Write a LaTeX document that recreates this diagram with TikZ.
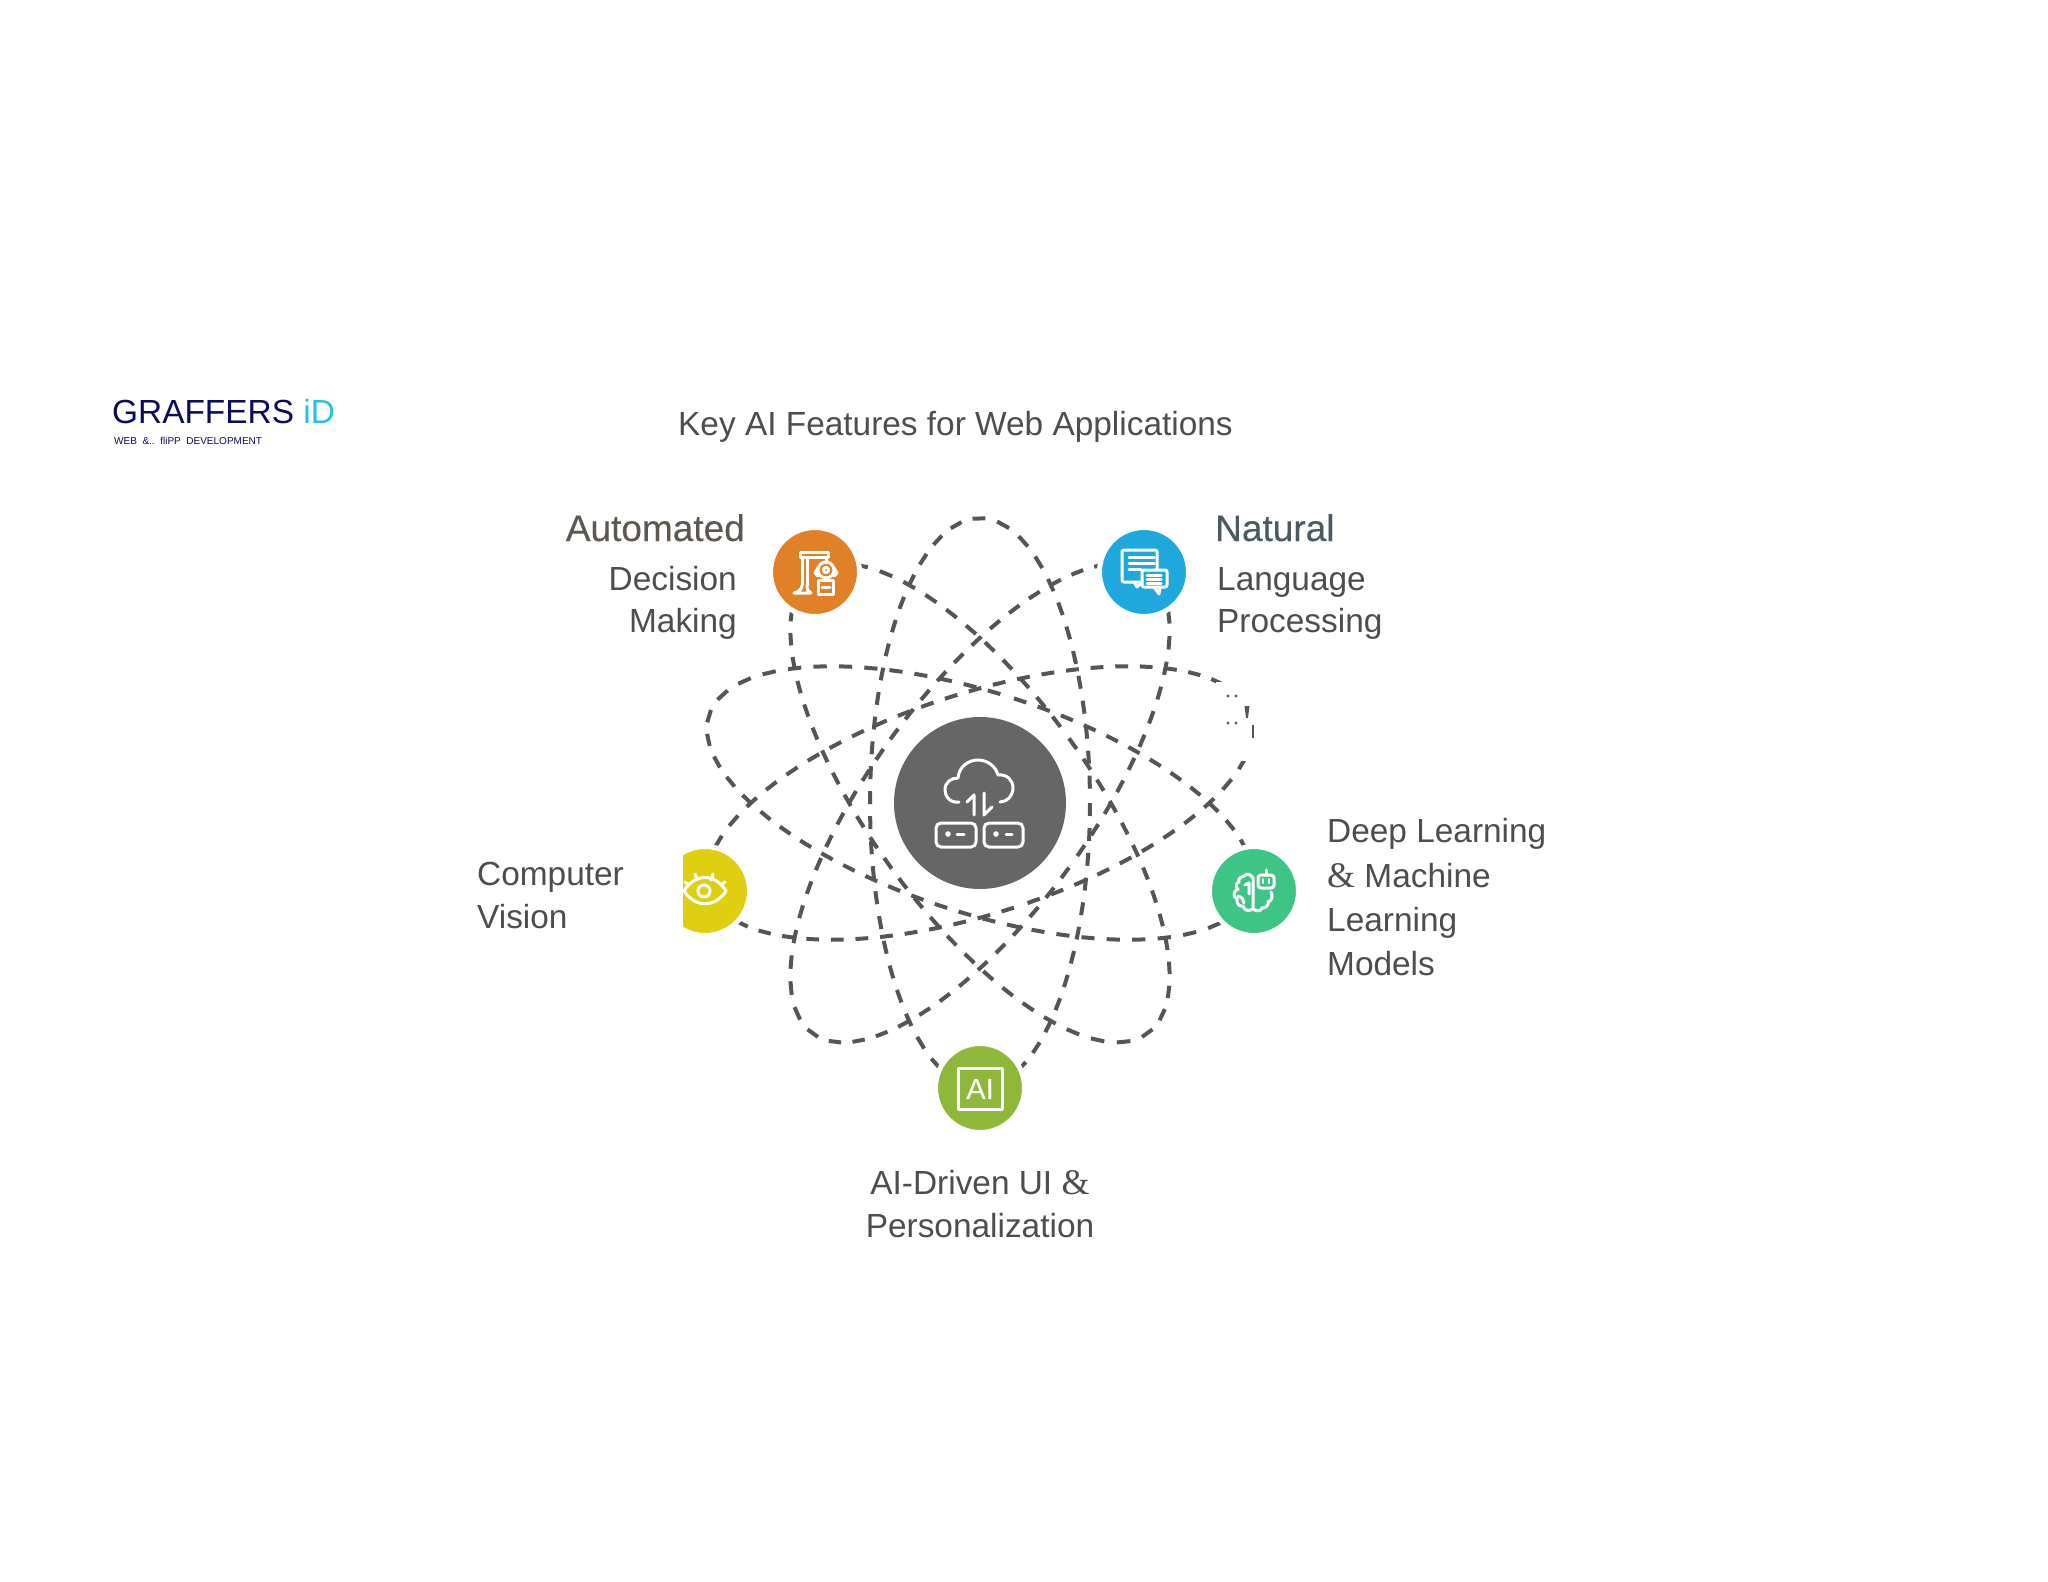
\documentclass[tikz,border=0pt]{standalone}
\usepackage{fontspec}
\setmainfont{Liberation Sans}
\newfontfamily\headfont[FakeBold=0.2]{Liberation Sans}
\newfontfamily\ampfont{Liberation Serif}
\newcommand{\bigamp}{{\ampfont\fontsize{36}{36}\selectfont\&}}
\definecolor{txt}{HTML}{4D4D4D}
\definecolor{dashc}{HTML}{555555}
\definecolor{orangec}{HTML}{E08028}
\definecolor{bluec}{HTML}{1FA8DC}
\definecolor{yellowc}{HTML}{E0CE10}
\definecolor{greenc}{HTML}{3EC484}
\definecolor{limec}{HTML}{8FB83A}
\definecolor{hubc}{HTML}{666666}
\definecolor{navy}{HTML}{0B0B5C}
\definecolor{cyanc}{HTML}{22C5DC}
\definecolor{headwarm}{HTML}{5C5850}
\definecolor{headcool}{HTML}{4A5A5E}
\tikzset{
  orbitstroke/.style={draw=dashc,line width=4pt},
  badge/.style={circle,minimum size=89pt,inner sep=0pt,draw=white,line width=5pt},
  glyph/.style={draw=white,line width=3pt,line join=round,line cap=round},
  label/.style={inner sep=0pt,font=\fontsize{33.4}{33.4}\selectfont,text=txt},
  headA/.style={inner sep=0pt,font=\headfont\fontsize{37}{37}\selectfont},
}
% one orbit drawn stroke by stroke, stepping along the ellipse by arc length
\newcommand{\orbitdashes}[1]{%
  \begin{scope}[shift={(c)},rotate=#1]
    \gdef\tcur{0}
    \foreach \i in {1,...,52}{
      \pgfmathsetmacro\spA{sqrt((1.10*sin(\tcur))^2+(2.85*cos(\tcur))^2)}
      \pgfmathsetmacro\tnd{\tcur+7.448/\spA}
      \pgfmathsetmacro\spB{sqrt((1.10*sin(\tnd))^2+(2.85*cos(\tnd))^2)}
      \pgfmathsetmacro\tnxt{\tnd+6.876/\spB}
      \draw[orbitstroke] ({110*cos(\tcur)},{285*sin(\tcur)}) -- ({110*cos(\tnd)},{285*sin(\tnd)});
      \xdef\tcur{\tnxt}
    }
  \end{scope}}
\begin{document}
\begin{tikzpicture}[x=1pt,y=-1pt]
\useasboundingbox (0,0) rectangle (2048,1582);
\fill[white] (0,0) rectangle (2048,1582);
\coordinate (c) at (980,803);
% orbits
\orbitdashes{0}
\orbitdashes{36}
\orbitdashes{72}
\orbitdashes{-36}
\orbitdashes{-72}
% erased stretch of one orbit, with its leftovers
\fill[white] (1216,682) rectangle (1268,761);
\fill[dashc] (1228,696) circle (1.6pt) (1236,696) circle (1.6pt)
             (1228,723) circle (1.6pt) (1236,723) circle (1.6pt);
\fill[dashc] (1244.5,706) -- (1249.5,706) -- (1248,718) -- (1246,718) -- cycle;
\fill[dashc] (1252.2,725) rectangle (1254,738);
% nodes
\node[circle,fill=hubc,minimum size=172pt,inner sep=0pt] (hub) at (c) {};
\node[badge,fill=orangec] (orange) at (815,572) {};
\node[badge,fill=bluec] (blue) at (1144,572) {};
\node[badge,fill=greenc] (green) at (1254,891) {};
\node[badge,fill=limec] (lime) at (980,1088) {};
\node[badge,fill=yellowc] (yellow) at (705,891) {};
\fill[white] (640,835) rectangle (683,947);
% hub icon
\begin{scope}[shift={(hub.center)},glyph]
 \draw (-21,-1) .. controls (-30,0) and (-35,-6) .. (-35,-13)
   .. controls (-35,-21) and (-29,-25) .. (-22,-25)
   .. controls (-21,-37) and (-11,-43) .. (-2,-43)
   .. controls (8,-43) and (16,-36) .. (18,-28)
   .. controls (27,-29) and (33,-23) .. (33,-15)
   .. controls (33,-7) and (27,-1) .. (20,-1);
 \draw (-13,-1) -- (-6,-8) -- (-6,12);
 \draw (4,-10) -- (4,12) -- (12,4);
 \draw[rounded corners=5pt] (-44,20) rectangle (-4,44);
 \draw[rounded corners=5pt] (4,20) rectangle (43,44);
 \fill[white,draw=none] (-32,31) circle (2.8pt) (16,31) circle (2.8pt);
 \draw (-23,31) -- (-16,31) (26,31) -- (32,31);
\end{scope}
% orange icon
\begin{scope}[shift={(orange.center)},glyph]
 \draw (-15,-20) rectangle (13,-15);
 \draw (-13,-15) -- (-13,13) (-8,-15) -- (-8,13);
 \draw (-13,13) .. controls (-13,18) and (-17,20) .. (-21,21) -- (-4,21)
       .. controls (-7,20) and (-8,18) .. (-8,13);
 \draw (11,-15) -- (11,-9);
 \draw (11,-2) circle (8pt);
 \draw (11,-2) circle (2.6pt);
 \draw (3,-4) -- (0,1) -- (3,4) (19,-4) -- (22,1) -- (19,4);
 \draw (3,8) rectangle (18,22);
 \draw (7,15) -- (15,15);
\end{scope}
% blue icon
\begin{scope}[shift={(blue.center)},glyph]
 \draw[rounded corners=2pt] (-2,10) -- (-22,10) -- (-22,-22) -- (13,-22) -- (13,-2);
 \draw (-10,10) -- (-7,15) -- (-3,11);
 \draw (-15,-15) -- (10,-15) (-15,-9) -- (10,-9) (-15,-3) -- (-3,-3);
 \draw[rounded corners=2pt] (-2,-2) rectangle (23,15);
 \draw (10,15) -- (15,22) -- (16,15);
 \draw (3,3) -- (17,3) (3,7) -- (17,7) (3,11) -- (17,11);
\end{scope}
% yellow icon
\begin{scope}[shift={(yellow.center)},glyph]
 \draw (-21,0) .. controls (-10,-18) and (10,-18) .. (21,0)
       .. controls (10,17) and (-10,17) .. (-21,0) -- cycle;
 \draw (-1,0) circle (6pt);
 \draw (-10,-17) -- (-8,-11) (8,-17) -- (6,-11) (-20,-9) -- (-16,-6) (20,-9) -- (16,-6);
\end{scope}
% lime icon
\begin{scope}[shift={(lime.center)},glyph]
 \draw (-22,-20) rectangle (22,21);
 \node[text=white,inner sep=0pt,font=\headfont\fontsize{29}{29}\selectfont] (ailabel) at (0,1) {AI};
\end{scope}
% green icon
\begin{scope}[shift={(green.center)},glyph]
 \draw (-1,18) -- (-1,-13) .. controls (-3,-17) and (-8,-18) .. (-10,-15)
   .. controls (-14,-14) and (-16,-12) .. (-15,-9)
   .. controls (-19,-8) and (-18,-3) .. (-16,-2)
   .. controls (-21,0) and (-21,6) .. (-17,8)
   .. controls (-18,13) and (-14,16) .. (-11,15)
   .. controls (-10,19) and (-6,21) .. (-1,18);
 \draw (-1,18) .. controls (3,21) and (7,20) .. (8,17)
   .. controls (12,17) and (15,14) .. (14,11)
   .. controls (18,10) and (19,5) .. (17,1);
 \draw (-9,-6) -- (-5,-8) -- (-5,3);
 \draw (-16,5) .. controls (-12,6) and (-10,9) .. (-10,12);
 \draw[rounded corners=3pt] (4,-16) rectangle (20,-3);
 \draw (12,-21) -- (12,-16);
 \draw[line width=2pt] (9,-12) -- (9,-8) (15,-12) -- (15,-8);
\end{scope}
% title
\node[label,anchor=base west] (title) at (678,435) {Key AI Features for Web Applications};
% labels
\node[headA,anchor=base east,text=headwarm] (a1) at (745,541) {Automated};
\node[label,anchor=base east] (a2) at (737,590) {Decision};
\node[label,anchor=base east] (a3) at (737,632) {Making};
\node[headA,anchor=base west,text=headcool] (n1) at (1215,541) {Natural};
\node[label,anchor=base west] (n2) at (1217,590) {Language};
\node[label,anchor=base west] (n3) at (1217,632) {Processing};
\node[label,anchor=base west] (d1) at (1327,842) {Deep Learning};
\node[label,anchor=base west] (d2) at (1327,887) {\bigamp{} Machine};
\node[label,anchor=base west] (d3) at (1327,931) {Learning};
\node[label,anchor=base west] (d4) at (1327,975) {Models};
\node[label,anchor=base west] (v1) at (477,885) {Computer};
\node[label,anchor=base west] (v2) at (477,928) {Vision};
\node[label,anchor=base] (u1) at (980,1194) {AI-Driven UI \bigamp};
\node[label,anchor=base] (u2) at (980,1237) {Personalization};
% logo
\node[inner sep=0pt,anchor=base west,font=\fontsize{33.4}{33.4}\selectfont,text=navy] (logo) at (112,423) {GRAFFERS \textcolor{cyanc}{iD}};
\node[inner sep=0pt,anchor=base west,font=\fontsize{10}{10}\selectfont,text=navy] (logosub) at (114,444) {WEB\ \ \&..\ \ fliPP\ \ DEVELOPMENT};
\end{tikzpicture}
\end{document}
